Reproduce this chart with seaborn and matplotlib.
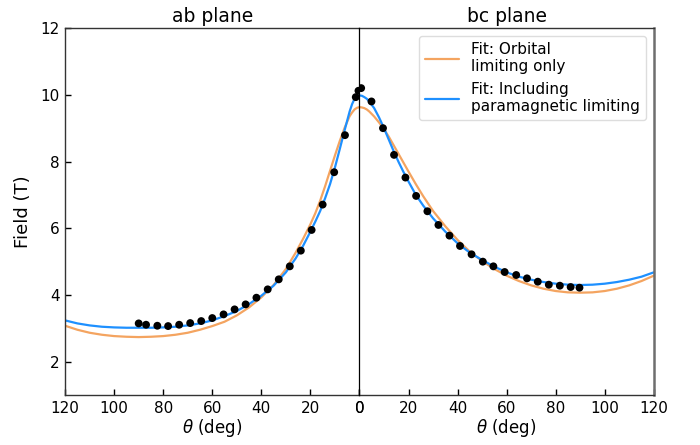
import matplotlib
matplotlib.use("Agg")
import matplotlib.pyplot as plt
import seaborn as sns

# ---------------- data ----------------
fit_theta = [0, 1, 2, 3, 4, 6, 8, 10, 12, 14, 16, 18, 20, 23, 26, 30, 35, 40, 45,
             50, 55, 60, 65, 70, 75, 80, 85, 90, 95, 100, 105, 110, 115, 120]

ab_orbital = [9.63, 9.61, 9.56, 9.47, 9.36, 9.02, 8.62, 8.18, 7.72, 7.26, 6.83, 6.45,
              6.12, 5.68, 5.27, 4.78, 4.30, 3.93, 3.63, 3.39, 3.20, 3.07, 2.96, 2.87,
              2.81, 2.77, 2.75, 2.74, 2.75, 2.77, 2.81, 2.87, 2.96, 3.08]
ab_para = [9.98, 9.96, 9.88, 9.72, 9.50, 8.95, 8.38, 7.82, 7.32, 6.90, 6.52, 6.20,
           5.90, 5.47, 5.10, 4.68, 4.28, 3.98, 3.73, 3.52, 3.37, 3.24, 3.15, 3.09,
           3.05, 3.03, 3.02, 3.02, 3.02, 3.03, 3.05, 3.09, 3.15, 3.24]

bc_orbital = [9.63, 9.62, 9.60, 9.56, 9.50, 9.35, 9.17, 8.97, 8.74, 8.48, 8.22, 7.96,
              7.70, 7.32, 6.96, 6.52, 6.06, 5.65, 5.30, 5.02, 4.78, 4.58, 4.42, 4.29,
              4.19, 4.12, 4.08, 4.07, 4.08, 4.12, 4.19, 4.29, 4.42, 4.58]
bc_para = [9.98, 9.97, 9.93, 9.88, 9.80, 9.60, 9.32, 9.00, 8.65, 8.30, 7.98, 7.68,
           7.40, 7.00, 6.68, 6.30, 5.90, 5.55, 5.27, 5.05, 4.85, 4.68, 4.55, 4.46,
           4.39, 4.34, 4.31, 4.30, 4.31, 4.34, 4.39, 4.46, 4.55, 4.68]

ab_theta = [90, 87, 82.4, 78, 73.5, 69, 64.5, 60, 55.4, 50.9, 46.4, 42, 37.4, 32.9,
            28.4, 23.9, 19.5, 15, 10.3, 5.9, 1.5, 0.4]
ab_field = [3.15, 3.11, 3.08, 3.07, 3.11, 3.16, 3.22, 3.31, 3.42, 3.57, 3.72, 3.92,
            4.17, 4.47, 4.86, 5.33, 5.95, 6.71, 7.68, 8.79, 9.93, 10.12]

bc_theta = [0.7, 4.9, 9.6, 14.1, 18.75, 23.1, 27.7, 32.2, 36.7, 41.0, 45.7, 50.3,
            54.6, 59.2, 63.9, 68.3, 72.7, 77.2, 81.7, 86.1, 89.7]
bc_field = [10.2, 9.80, 9.0, 8.2, 7.52, 6.97, 6.51, 6.10, 5.78, 5.47, 5.22, 5.0,
            4.86, 4.69, 4.60, 4.50, 4.40, 4.31, 4.28, 4.24, 4.22]

x_ticks = [0, 20, 40, 60, 80, 100, 120]
y_ticks = [2, 4, 6, 8, 10, 12]
label_orb = "Fit: Orbital\nlimiting only"
label_para = "Fit: Including\nparamagnetic limiting"

# ---------------- style ----------------
sns.set_style("white")
plt.rcParams["font.family"] = ["DejaVu Sans"]
plt.rcParams["xtick.direction"] = "in"
plt.rcParams["ytick.direction"] = "in"
plt.rcParams["mathtext.fontset"] = "dejavusans"
plt.rcParams["text.color"] = "black"
plt.rcParams["axes.labelcolor"] = "black"
plt.rcParams["xtick.color"] = "black"
plt.rcParams["ytick.color"] = "black"

c_orb = "#F4A460"
c_para = "#1E90FF"

fig = plt.figure(figsize=(7, 4.45), dpi=100)
gs = fig.add_gridspec(1, 2, left=0.093, right=0.934, top=0.937, bottom=0.112, wspace=0)
axL = fig.add_subplot(gs[0, 0])
axR = fig.add_subplot(gs[0, 1], sharey=axL)

for ax, th, orb, para, pth, pf, title in [
    (axL, fit_theta, ab_orbital, ab_para, ab_theta, ab_field, "ab plane"),
    (axR, fit_theta, bc_orbital, bc_para, bc_theta, bc_field, "bc plane"),
]:
    sns.lineplot(x=th, y=orb, ax=ax, color=c_orb, lw=1.6, label=label_orb, sort=False)
    sns.lineplot(x=th, y=para, ax=ax, color=c_para, lw=1.6, label=label_para, sort=False)
    sns.scatterplot(x=pth, y=pf, ax=ax, color="black", s=32, edgecolor="none", zorder=5)
    ax.set_title(title, fontsize=13.5, pad=4)
    ax.set_xlabel(r"$\theta$ (deg)", fontsize=12, labelpad=1)
    ax.set_xticks(x_ticks)
    ax.tick_params(axis="both", labelsize=11, length=4, width=1, pad=4,
                   bottom=True, top=False, right=False)
    for s in ax.spines.values():
        s.set_color("#333333")
        s.set_linewidth(1.0)

axL.set_xlim(120, 0)
axR.set_xlim(0, 120)
axL.set_ylim(1, 12)
axL.set_yticks(y_ticks)
axL.tick_params(axis="y", left=True)
axL.set_ylabel("Field (T)", fontsize=13, labelpad=6)
axL.legend_.remove()

axL.spines["right"].set_visible(False)
axR.spines["left"].set_color("black")
axR.spines["left"].set_linewidth(0.9)
axR.spines["left"].set_zorder(10)
axR.spines["right"].set_color("#6e6e6e")
axR.spines["right"].set_linewidth(1.8)
axR.tick_params(axis="y", left=False, labelleft=False)
axR.set_ylabel("")

leg = axR.legend(loc="upper right", fontsize=11, frameon=True, fancybox=True,
                 framealpha=1.0, edgecolor="#dddddd", handlelength=2.2,
                 borderaxespad=0.5)

fig.savefig("out.png", dpi=100)
